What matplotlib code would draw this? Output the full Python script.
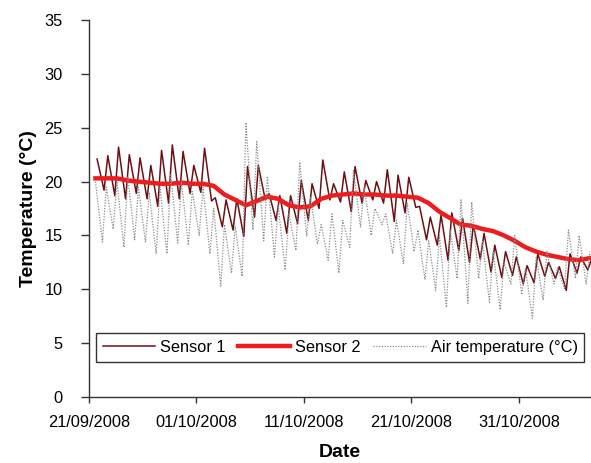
import datetime as dt
import numpy as np
import matplotlib
matplotlib.use("Agg")
import matplotlib.pyplot as plt
import matplotlib.dates as mdates

plt.rcParams['font.family'] = ['Liberation Sans', 'DejaVu Sans']

# day 0 = 21/09/2008, one value per day (None = no reading)
start = dt.datetime(2008, 9, 21)

# Sensor 1: daily minimum (morning) and maximum (evening)
s1_min = [None, 19.2, 18.7, 18.4, 18.9, 18.4, 17.7, 18.0, 18.4, 18.9,
          19.0, 18.2, 15.8, 15.5, 14.9, 16.7, 18.3, 16.4, 15.2, 16.1,
          16.4, 17.5, 18.3, 18.1, 17.2, 18.0, 18.3, 18.0, 16.3, 17.1,
          17.6, 14.6, 14.1, 12.7, 13.6, 12.5, 12.8, 11.6, 11.1, 11.3,
          10.5, 10.6, 11.2, 11.0, 9.9, 11.5, 11.8]
s1_max = [22.1, 22.4, 23.2, 22.5, 22.2, 21.5, 22.9, 23.4, 22.8, 21.5,
          23.1, 18.5, 18.3, 18.4, 21.4, 21.5, 18.9, 18.7, 18.7, 20.1,
          19.8, 22.0, 19.8, 20.9, 21.4, 20.1, 20.0, 21.1, 20.6, 20.4,
          17.7, 16.7, 16.9, 17.1, 16.6, 16.0, 15.2, 14.1, 13.5, 13.0,
          12.2, 13.3, 12.5, 12.1, 13.3, 13.0, 12.8]

# Sensor 2: daily value
s2 = [20.3, 20.3, 20.3, 20.1, 20.0, 19.9, 19.8, 19.8, 19.9, 19.8,
      19.8, 19.6, 18.8, 18.3, 17.8, 18.2, 18.6, 18.4, 17.8, 17.6,
      17.7, 18.4, 18.7, 18.8, 18.9, 18.8, 18.8, 18.7, 18.7, 18.6,
      18.5, 18.0, 17.2, 16.6, 16.0, 15.9, 15.6, 15.4, 15.0, 14.5,
      13.9, 13.5, 13.2, 13.0, 12.8, 12.7, 12.9]

# Air temperature: daily minimum and maximum
air_min = [None, 14.4, 15.6, 13.9, 14.6, 14.4, 13.3, 13.3, 14.3, 14.1,
           15.0, 13.3, 10.3, 11.5, 11.2, 15.5, 14.5, 13.0, 11.8, 13.6,
           14.9, 14.2, 12.7, 11.5, 13.9, 15.8, 15.0, 16.0, 13.3, 12.4,
           13.5, 10.9, 9.9, 8.3, 11.0, 8.7, 11.0, 8.8, 8.1, 10.5,
           9.5, 7.3, 9.0, 10.5, 10.0, 11.0, 10.5]
air_max = [20.0, 19.5, 20.0, 20.5, 19.5, 19.0, 19.5, 20.6, 20.0, 19.2,
           19.5, 17.5, 16.0, 15.8, 25.5, 23.7, 20.5, 17.8, 17.0, 21.8,
           18.6, 16.0, 17.0, 16.4, 21.1, 19.5, 17.5, 17.0, 16.4, 18.0,
           15.5, 14.5, 15.0, 15.5, 18.3, 18.1, 14.5, 13.5, 12.5, 15.0,
           12.0, 13.0, 13.5, 12.0, 15.5, 15.0, 13.5]


def daily_cycle(lows, highs, t_low, t_high):
    t, v = [], []
    for d in range(len(highs)):
        if lows[d] is not None:
            t.append(start + dt.timedelta(days=d + t_low))
            v.append(lows[d])
        t.append(start + dt.timedelta(days=d + t_high))
        v.append(highs[d])
    return t, v


t1, v1 = daily_cycle(s1_min, s1_max, 0.4, 0.75)
ta, va = daily_cycle(air_min, air_max, 0.25, 0.6)
t2 = [start + dt.timedelta(days=d + 0.6) for d in range(len(s2))]

fig = plt.figure(figsize=(5.91, 4.63), dpi=100)
ax = fig.add_axes([0.1506, 0.1425, 0.8494, 0.8143])

ax.plot(t1, v1, color='#6e0f14', linewidth=1.1, label='Sensor 1')
ax.plot(t2, s2, color='#ee1c1c', linewidth=3.2, label='Sensor 2')
ax.plot(ta, va, color='#8c8c8c', linewidth=0.9, linestyle=(0, (1, 1.2)),
        label='Air temperature (°C)')

ax.set_xlim(start, start + dt.timedelta(days=46.7))
ax.set_ylim(0, 35)
ax.set_yticks(np.arange(0, 36, 5))
ticks = [start + dt.timedelta(days=10 * i) for i in range(5)]
ax.set_xticks(ticks)
ax.xaxis.set_major_formatter(mdates.DateFormatter('%d/%m/%Y'))

for s in ['top', 'right']:
    ax.spines[s].set_visible(False)
for s in ['left', 'bottom']:
    ax.spines[s].set_color('#333333')
    ax.spines[s].set_linewidth(1.0)
ax.tick_params(axis='both', direction='out', length=5, width=1,
               color='#333333', labelsize=11.8)
ax.tick_params(axis='x', pad=9, length=4)
ax.tick_params(axis='y', pad=13, length=6)

ax.set_xlabel('Date', fontsize=14, fontweight='bold', labelpad=10)
ax.set_ylabel('Temperature (°C)', fontsize=14, fontweight='bold', labelpad=5)

leg = ax.legend(loc='lower left', bbox_to_anchor=(0.014, 0.093),
                ncol=3, fontsize=11.8, frameon=True, fancybox=False,
                handlelength=3.2, handletextpad=0.3, columnspacing=0.75,
                borderaxespad=0, borderpad=0.42)
leg.get_frame().set_edgecolor('black')
leg.get_frame().set_linewidth(1.0)

fig.savefig('out.png', dpi=100)
